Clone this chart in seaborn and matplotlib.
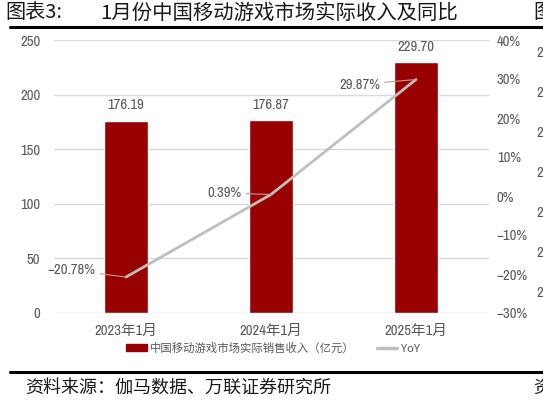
import matplotlib
matplotlib.use("Agg")
import matplotlib.pyplot as plt
from matplotlib import font_manager
from matplotlib.patches import Patch
from matplotlib.lines import Line2D
from matplotlib.ticker import FuncFormatter
import seaborn as sns
import pandas as pd

# ---- data ----
categories = ["2023年1月", "2024年1月", "2025年1月"]
revenue = [176.19, 176.87, 229.70]
yoy = [-0.2078, 0.0039, 0.2987]
yoy_labels = ["-20.78%", "0.39%", "29.87%"]
left_ticks = [0, 50, 100, 150, 200, 250]
right_ticks = [-0.3, -0.2, -0.1, 0.0, 0.1, 0.2, 0.3, 0.4]

title_head = "图表3:"
title_body = "1月份中国移动游戏市场实际收入及同比"
source = "资料来源：伽马数据、万联证券研究所"
bar_name = "中国移动游戏市场实际销售收入（亿元）"
line_name = "YoY"

sns.set_theme(style="white")
CJK = ["Noto Sans CJK SC", "DejaVu Sans"]
plt.rcParams["font.family"] = CJK

# pick a condensed / narrow face if one is installed
narrow = None
for f in font_manager.fontManager.ttflist:
    n = f.name
    if ("Narrow" in n or "Condensed" in n) and f.style == "normal" and f.weight in (400, "normal", "regular"):
        narrow = n
        break
if narrow is None:
    for f in font_manager.fontManager.ttflist:
        if f.stretch not in ("normal", 500) and f.style == "normal":
            narrow = f.name
            break
NUM = ([narrow] if narrow else []) + ["Liberation Sans", "Noto Sans CJK SC"]
NUMSIZE = 10.5 if narrow else 8.5

BAR = "#990000"
LINE = "#bfbfbf"
TXT = "#595959"
GRID = "#d9d9d9"

fig = plt.figure(figsize=(5.43, 4.0), dpi=100)
ax = fig.add_axes([53.5 / 543, 1 - 313 / 400, (488.5 - 53.5) / 543, (313 - 40) / 400])

df = pd.DataFrame({"cat": categories, "rev": revenue})
sns.barplot(data=df, x="cat", y="rev", color=BAR, saturation=1, width=0.31, ax=ax, zorder=2)
ax.set_xlim(-0.5, 2.5)
ax.set_ylim(0, 250)
ax.set_yticks(left_ticks)
ax.yaxis.grid(True, color=GRID, linewidth=1)
ax.set_axisbelow(True)
ax.set_xlabel("")
ax.set_ylabel("")
for s in ax.spines.values():
    s.set_visible(False)
ax.tick_params(axis="both", length=0, colors=TXT)
ax.tick_params(axis="y", pad=9.5, labelsize=NUMSIZE)
ax.tick_params(axis="x", pad=8, labelsize=NUMSIZE)
for lab in ax.get_yticklabels():
    lab.set_fontfamily(NUM)
for lab in ax.get_xticklabels():
    lab.set_fontfamily(NUM)

for cont in ax.containers:
    ax.bar_label(cont, labels=[f"{v:.2f}" for v in revenue], padding=6,
                 color=TXT, fontsize=NUMSIZE, fontfamily=NUM)

ax2 = ax.twinx()
xpos = list(range(len(categories)))
sns.lineplot(x=xpos, y=yoy, ax=ax2, color=LINE, linewidth=2.0, zorder=3)
ax2.set_ylim(-0.3, 0.4)
ax2.set_yticks(right_ticks)
ax2.yaxis.set_major_formatter(FuncFormatter(lambda v, p: f"{v*100:.0f}%".replace("-", "−")))
for s in ax2.spines.values():
    s.set_visible(False)
ax2.tick_params(axis="y", length=0, colors=TXT, pad=6, labelsize=NUMSIZE)
for lab in ax2.get_yticklabels():
    lab.set_fontfamily(NUM)
ax2.grid(False)

offsets = [(-22, 5), (-21, 1), (-26, -3.6)]
for i, (lbl, off) in enumerate(zip(yoy_labels, offsets)):
    ax2.annotate(lbl.replace("-", "−"), xy=(xpos[i], yoy[i]), xytext=off, textcoords="offset points",
                 ha="right", va="center", color=TXT, fontsize=NUMSIZE, fontfamily=NUM,
                 arrowprops=dict(arrowstyle="-", color="#c09a9a", linewidth=0.8,
                                 shrinkA=1, shrinkB=0))

# legend
handles = [Patch(facecolor=BAR, edgecolor=BAR),
           Line2D([0], [0], color=LINE, linewidth=2.5)]
leg = fig.legend(handles, [bar_name, line_name], loc="center", bbox_to_anchor=(273 / 543, 1 - 348 / 400),
                 ncol=2, frameon=False, fontsize=8.2, handlelength=1.8, handleheight=0.6,
                 handletextpad=0.3, columnspacing=1.9, borderaxespad=0)
for t in leg.get_texts():
    t.set_color(TXT)

# title, rules, source
fig.text(5 / 543, 1 - 13 / 400, title_head, fontsize=14.5, va="center", ha="left", color="#1a1a1a")
fig.text(100 / 543, 1 - 13 / 400, title_body, fontsize=14.7, va="center", ha="left", color="#1a1a1a")
fig.text(533 / 543, 1 - 13 / 400, "图", fontsize=14.5, va="center", ha="left", color="#1a1a1a")
fig.add_artist(Line2D([10 / 543, 1], [1 - 27 / 400] * 2, color="black", linewidth=2.2, transform=fig.transFigure))
fig.add_artist(Line2D([10 / 543, 1], [1 - 372 / 400] * 2, color="black", linewidth=2.2, transform=fig.transFigure))
fig.text(25 / 543, 1 - 388 / 400, source, fontsize=13, va="center", ha="left", color="#1a1a1a")
fig.text(533 / 543, 1 - 388 / 400, "资", fontsize=13, va="center", ha="left", color="#1a1a1a")
for k in range(7):
    fig.text(536 / 543, 1 - (53 + 40 * k) / 400, "2", fontsize=NUMSIZE, va="center", ha="left",
             color=TXT, fontfamily=NUM)

fig.savefig("out.png", dpi=100)
